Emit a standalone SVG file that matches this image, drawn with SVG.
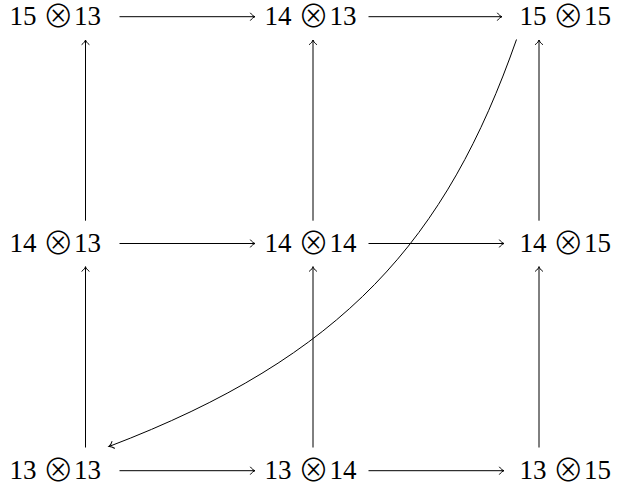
<svg xmlns="http://www.w3.org/2000/svg" width="617" height="488" viewBox="0 0 617 488">
<defs>
<marker id="arr" markerUnits="userSpaceOnUse" markerWidth="12" markerHeight="12" viewBox="-6 -6 12 12" refX="0" refY="0" orient="auto">
<path d="M-4.5,-3.6 C-3,-1.5 -1.2,-0.4 0,0 C-1.2,0.4 -3,1.5 -4.5,3.6" fill="none" stroke="#000" stroke-width="1" stroke-linecap="round"/>
</marker>
<style>
text{font-family:"Liberation Serif","DejaVu Serif",serif;font-size:27px;fill:#000}
.op{font-family:"Noto Sans CJK KR","Noto Sans CJK JP",sans-serif;font-weight:300;font-size:31px}
.c line,.c path{stroke:#000;stroke-width:1;fill:none;marker-end:url(#arr)}
</style>
</defs>
<rect width="617" height="488" fill="#fff"/>
<g id="n15x13"><text y="25"><tspan x="9.5">15</tspan><tspan class="op" x="42.7" dy="1.5">⊗</tspan><tspan x="74" dy="-1.5">13</tspan></text></g>
<g id="n14x13top"><text y="25"><tspan x="264.5">14</tspan><tspan class="op" x="298" dy="1.5">⊗</tspan><tspan x="329.5" dy="-1.5">13</tspan></text></g>
<g id="n15x15"><text y="25"><tspan x="519.5">15</tspan><tspan class="op" x="552.7" dy="1.5">⊗</tspan><tspan x="584" dy="-1.5">15</tspan></text></g>
<g id="n14x13"><text y="252"><tspan x="9.5">14</tspan><tspan class="op" x="42.7" dy="1.5">⊗</tspan><tspan x="74" dy="-1.5">13</tspan></text></g>
<g id="n14x14"><text y="252"><tspan x="264.5">14</tspan><tspan class="op" x="298" dy="1.5">⊗</tspan><tspan x="329.5" dy="-1.5">14</tspan></text></g>
<g id="n14x15"><text y="252"><tspan x="519.5">14</tspan><tspan class="op" x="552.7" dy="1.5">⊗</tspan><tspan x="584" dy="-1.5">15</tspan></text></g>
<g id="n13x13"><text y="479"><tspan x="9.5">13</tspan><tspan class="op" x="42.7" dy="1.5">⊗</tspan><tspan x="74" dy="-1.5">13</tspan></text></g>
<g id="n13x14"><text y="479"><tspan x="264.5">13</tspan><tspan class="op" x="298" dy="1.5">⊗</tspan><tspan x="329.5" dy="-1.5">14</tspan></text></g>
<g id="n13x15"><text y="479"><tspan x="519.5">13</tspan><tspan class="op" x="552.7" dy="1.5">⊗</tspan><tspan x="584" dy="-1.5">15</tspan></text></g>
<g id="connectors" class="c">
<line x1="119.5" y1="16.7" x2="255" y2="16.7"/>
<line x1="368.5" y1="16.7" x2="502" y2="16.7"/>
<line x1="119.5" y1="243.5" x2="255" y2="243.5"/>
<line x1="368.5" y1="243.5" x2="504" y2="243.5"/>
<line x1="119.5" y1="470.7" x2="255" y2="470.7"/>
<line x1="368.5" y1="470.7" x2="504" y2="470.7"/>
<line x1="85.5" y1="220.7" x2="85.5" y2="40"/>
<line x1="313" y1="220.7" x2="313" y2="40"/>
<line x1="539" y1="220.7" x2="539" y2="40"/>
<line x1="85.5" y1="447.5" x2="85.5" y2="266.7"/>
<line x1="313" y1="447.5" x2="313" y2="266.7"/>
<line x1="539" y1="447.5" x2="539" y2="266.7"/>
<path d="M516.5,39.5 C446.5,239.5 344,357 109,446.5"/>
</g>
</svg>
